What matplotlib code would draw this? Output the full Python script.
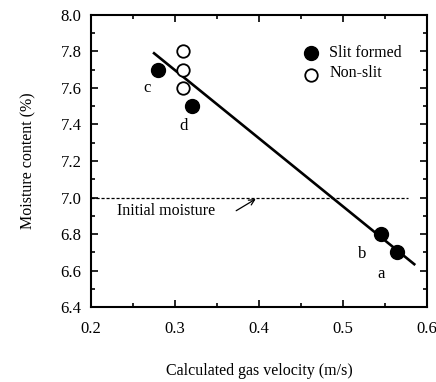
import matplotlib
matplotlib.use("Agg")
import matplotlib.pyplot as plt
from matplotlib.ticker import MultipleLocator

plt.rcParams['font.family'] = ['Liberation Serif', 'DejaVu Serif']

# measured samples
slit_v = [0.28, 0.32, 0.545, 0.565]
slit_m = [7.70, 7.50, 6.80, 6.70]
slit_tags = ['c', 'd', 'b', 'a']
nonslit_v = [0.31, 0.31, 0.31]
nonslit_m = [7.80, 7.70, 7.60]

# linear fit through the data
fit_v = [0.275, 0.585]
fit_m = [7.79, 6.635]

initial_moisture = 7.0

fig = plt.figure(figsize=(4.36, 3.82), dpi=100)
ax = fig.add_axes([0.209, 0.196, 0.77, 0.765])

ax.plot(fit_v, fit_m, color='black', lw=1.9, zorder=2)
ax.plot([0.2, 0.578], [initial_moisture] * 2, color='black', lw=0.9,
        ls=(0, (2.5, 1.5)), zorder=1)

ax.plot(slit_v, slit_m, 'o', ms=10, color='black', zorder=3)
ax.plot(nonslit_v, nonslit_m, 'o', ms=9, mfc='white', mec='black', mew=1.3,
        zorder=3)

tag_pos = {'c': (0.267, 7.6), 'd': (0.31, 7.39), 'b': (0.523, 6.69),
           'a': (0.545, 6.58)}
for t in slit_tags:
    x, y = tag_pos[t]
    ax.text(x, y, t, fontsize=12, ha='center', va='center')

ax.annotate('', xy=(0.399, 7.0), xytext=(0.37, 6.92),
            arrowprops=dict(arrowstyle='->', color='black', lw=0.9))
ax.text(0.231, 6.925, 'Initial moisture', fontsize=11.5, va='center')

# legend drawn by hand
ax.plot([0.462], [7.79], 'o', ms=10, color='black')
ax.text(0.484, 7.79, 'Slit formed', fontsize=11.5, va='center')
ax.plot([0.462], [7.67], 'o', ms=9, mfc='white', mec='black', mew=1.3)
ax.text(0.484, 7.68, 'Non-slit', fontsize=11.5, va='center')

ax.set_xlim(0.2, 0.6)
ax.set_ylim(6.4, 8.0)
ax.xaxis.set_major_locator(MultipleLocator(0.1))
ax.xaxis.set_minor_locator(MultipleLocator(0.05))
ax.yaxis.set_major_locator(MultipleLocator(0.2))
ax.yaxis.set_minor_locator(MultipleLocator(0.1))
ax.xaxis.set_major_formatter(plt.FormatStrFormatter('%.1f'))
ax.yaxis.set_major_formatter(plt.FormatStrFormatter('%.1f'))
ax.tick_params(which='both', direction='in', top=True, right=True,
               width=1.2, labelsize=12)
ax.tick_params(which='major', length=5)
ax.tick_params(which='minor', length=3)
ax.tick_params(axis='x', pad=10)
ax.tick_params(axis='y', pad=7)
for s in ax.spines.values():
    s.set_linewidth(1.5)

ax.set_xlabel('Calculated gas velocity (m/s)', fontsize=11.5, labelpad=19)
ax.set_ylabel('Moisture content (%)', fontsize=11.5, labelpad=17)

fig.savefig('out.png', dpi=100)
